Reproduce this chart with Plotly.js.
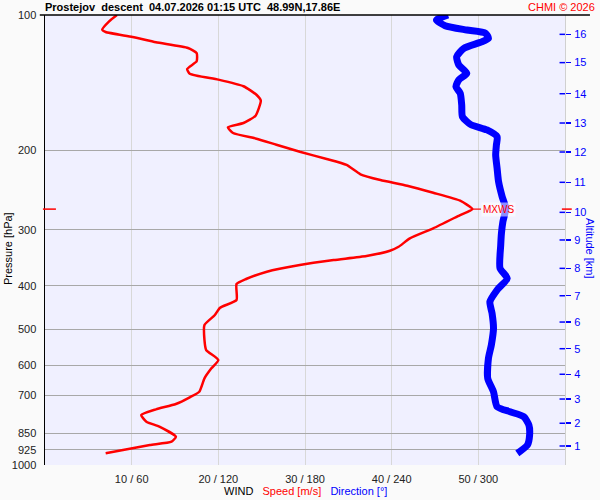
<!DOCTYPE html>
<html>
<head>
<meta charset="utf-8">
<script src="https://cdn.plot.ly/plotly-3.0.1.min.js"></script>
<style>html,body{margin:0;padding:0;background:#fafafa;}#chart{width:600px;height:500px;}</style>
</head>
<body>
<div id="chart"></div>
<script>
// Wind speed profile (m/s) vs pressure (hPa)
const speedPressure = [100, 103.3, 107.8, 109.1, 111.9, 115.0, 118.4, 121.5, 126.7, 131.8, 135.0, 139.2, 144.0, 150.4, 155.0, 167.4, 173.8, 177.7, 182.9, 188.3, 194.2, 201.3, 208.9, 215.4, 225.9, 232.6, 239.5, 248.3, 258.6, 270, 278.3, 297.9, 313.6, 327.4, 334.2, 343.3, 350.4, 359.4, 371.9, 386.1, 396.1, 429.9, 447.2, 464.2, 488.5, 527.6, 555.3, 584.5, 609.8, 641.7, 687.4, 707.4, 732.0, 752.1, 774.3, 801.3, 822.0, 865.1, 887.5, 902.7, 926.1, 941.9];
const speed = [8.3, 7.4, 6.6, 7.0, 10.1, 12.8, 16.5, 17.5, 17.5, 16.4, 16.7, 20.0, 22.9, 24.4, 24.9, 24.3, 22.9, 21.1, 21.7, 24.4, 26.7, 29.4, 32.5, 34.8, 36.4, 38.7, 41.8, 44.8, 47.9, 49.3, 47.9, 44.8, 42.1, 40.8, 39.8, 37.1, 33.3, 29.4, 25.6, 23.2, 22.1, 22.1, 20.2, 19.6, 18.4, 18.4, 18.6, 20.0, 19.2, 18.4, 17.8, 16.7, 15.1, 12.8, 11.1, 11.7, 13.2, 15.1, 14.6, 12.1, 9.0, 7.0];

// Wind direction profile (deg) vs pressure (hPa)
const dirPressure = [100, 102.6, 105.6, 108.0, 109.8, 112.7, 115.0, 118.6, 123.8, 129.2, 134.7, 139.4, 144.3, 149.3, 158.5, 168.3, 175.0, 180.1, 186.4, 194.5, 204.7, 219.1, 234.6, 253.4, 268.9, 288.0, 305.5, 324.5, 365.5, 384.7, 408.4, 433.7, 460.1, 497.0, 541.3, 579.3, 641.7, 687.4, 742.0, 761.4, 781.1, 814.9, 857.7, 902.7, 941.9];
const direction = [279, 271, 277, 292, 305, 307, 301.5, 290, 285, 286.5, 292, 286.5, 284.5, 287.5, 288.5, 289, 294.5, 306, 313, 312.5, 312, 313, 314, 316.5, 319, 317, 316, 315.5, 315, 320, 313, 308, 309.5, 310.5, 309, 307, 306.5, 310.5, 313, 322, 331.5, 335, 335.5, 334, 327];

// Axis ticks
const pressureTicks = [100, 200, 300, 400, 500, 600, 700, 850, 925, 1000];
const windTickVals = [10, 20, 30, 40, 50];
const windTickText = ['10 / 60', '20 / 120', '30 / 180', '40 / 240', '50 / 300'];
const altitudeKm = ['1','2','3','4','5','6','7','8','9','10','11','12','13','14','15','16'];
const altitudePressure = [907.3, 807.6, 713.5, 628.6, 551.5, 481.2, 420.6, 365.6, 316.2, 274.5, 235.4, 201.6, 173.8, 149.6, 127.6, 110.4];

const titleText = 'Prostejov&nbsp; descent&nbsp; 04.07.2026 01:15 UTC&nbsp; 48.99N,17.86E';
const creditText = 'CHMI © 2026';

const FONT = 'Liberation Sans, Arial, sans-serif';

// max wind
let iMax = 0;
speed.forEach((v, i) => { if (v > speed[iMax]) iMax = i; });
const maxSpeed = speed[iMax], maxP = speedPressure[iMax];

const traces = [
  {x: direction, y: dirPressure, xaxis: 'x2', yaxis: 'y', mode: 'lines',
   line: {color: '#0000ff', width: 7, shape: 'spline', smoothing: 0.6}, hoverinfo: 'skip'},
  {x: speed, y: speedPressure, xaxis: 'x', yaxis: 'y', mode: 'lines',
   line: {color: '#ff0000', width: 2.5, shape: 'spline', smoothing: 0.5}, hoverinfo: 'skip'}
];

const shapes = [
  {type: 'line', xref: 'paper', yref: 'paper', x0: -0.01, x1: 1.048, y0: 1, y1: 1, line: {color: '#000', width: 1.5}},
  {type: 'line', xref: 'paper', yref: 'y', x0: -0.004, x1: 0.021, y0: maxP, y1: maxP, line: {color: '#ff0000', width: 1.5}},
  {type: 'line', xref: 'paper', yref: 'y', x0: 0.994, x1: 1.013, y0: maxP, y1: maxP, line: {color: '#ff0000', width: 1.5}},
  {type: 'line', xref: 'x', yref: 'y', x0: maxSpeed, x1: maxSpeed + 1.0, y0: maxP, y1: maxP, line: {color: '#ff0000', width: 1.2}}
];
altitudePressure.forEach(p => {
  shapes.push({type: 'line', xref: 'paper', yref: 'y', x0: 0.9895, x1: 1.0, y0: p, y1: p, line: {color: '#0000ff', width: 1.5}});
});

const annotations = [
  {text: '<b>' + titleText + '</b>', xref: 'paper', yref: 'paper', x: -0.004, y: 1, xanchor: 'left', yanchor: 'bottom', yshift: 0,
   showarrow: false, font: {family: FONT, size: 11, color: '#000'}},
  {text: creditText, xref: 'paper', yref: 'paper', x: 1.0615, y: 1, xanchor: 'right', yanchor: 'bottom', yshift: 0,
   showarrow: false, font: {family: FONT, size: 11, color: '#ff0000'}},
  {text: 'WIND&nbsp;&nbsp; <span style="color:#ff0000">Speed [m/s]</span>&nbsp;&nbsp; <span style="color:#0000ff">Direction [°]</span>',
   xref: 'paper', yref: 'paper', x: 0.5, y: 0, yshift: -26, xanchor: 'center', yanchor: 'middle',
   showarrow: false, font: {family: FONT, size: 11, color: '#000'}},
  {text: 'Pressure [hPa]', xref: 'paper', yref: 'paper', x: -0.071, y: 0.48, xanchor: 'center', yanchor: 'middle',
   textangle: -90, showarrow: false, font: {family: FONT, size: 11, color: '#000'}},
  {text: 'Altitude [km]', xref: 'paper', yref: 'paper', x: 1.048, y: 0.48, xanchor: 'center', yanchor: 'middle',
   textangle: 90, showarrow: false, font: {family: FONT, size: 11, color: '#0000ff'}},
  {text: 'MXWS', xref: 'x', yref: 'y', x: maxSpeed, y: Math.log10(maxP), xanchor: 'left', yanchor: 'middle', xshift: 9,
   showarrow: false, bgcolor: 'rgba(255,255,255,0.55)', borderpad: 1, font: {family: FONT, size: 10, color: '#ff0000'}}
];

const layout = {
  width: 600, height: 500,
  margin: {l: 45, r: 35, t: 15, b: 35, pad: 0},
  paper_bgcolor: '#fafafa', plot_bgcolor: '#f0f0ff',
  showlegend: false,
  font: {family: FONT, size: 11, color: '#222'},
  xaxis: {range: [0, 60], tickvals: windTickVals, ticktext: windTickText, showgrid: true, gridcolor: '#d8d8d8', gridwidth: 1,
          zeroline: false, showline: false, ticks: '', ticklabelstandoff: 6, tickfont: {family: FONT, size: 11, color: '#222'}, fixedrange: true},
  xaxis2: {range: [0, 360], overlaying: 'x', visible: false, fixedrange: true},
  yaxis: {type: 'log', range: [3, 2], tickvals: pressureTicks, ticktext: pressureTicks.map(String), showgrid: true, gridcolor: '#a8a8a8', gridwidth: 1,
          zeroline: false, showline: true, linecolor: '#000', linewidth: 1.5, ticks: '', ticklabelstandoff: 5,
          tickfont: {family: FONT, size: 11, color: '#222'}, fixedrange: true},
  yaxis2: {type: 'log', range: [3, 2], overlaying: 'y', side: 'right', tickvals: altitudePressure, ticktext: altitudeKm,
           showgrid: false, zeroline: false, showline: true, linecolor: '#d0d0d0', linewidth: 1,
           ticks: 'outside', ticklen: 5, tickcolor: '#0000ff', tickwidth: 1.5, ticklabelstandoff: 1,
           tickfont: {family: FONT, size: 11, color: '#0000ff'}, fixedrange: true},
  shapes: shapes,
  annotations: annotations
};

// dummy trace to activate yaxis2
traces.push({x: [null], y: [null], xaxis: 'x', yaxis: 'y2', mode: 'lines', hoverinfo: 'skip'});

Plotly.newPlot('chart', traces, layout, {staticPlot: true, displayModeBar: false});
</script>
</body>
</html>
